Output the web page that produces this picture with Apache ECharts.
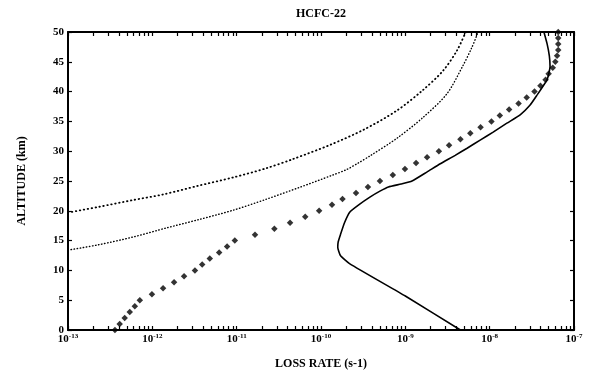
<!DOCTYPE html>
<html>
<head>
<meta charset="utf-8">
<script src="https://cdn.jsdelivr.net/npm/echarts@6/dist/echarts.min.js"></script>
<style>
    html, body { margin: 0; padding: 0; background: #fff; }
    #chart { width: 589px; height: 379px; }
</style>
</head>
<body>
<div id="chart"></div>
<script>
// x axis decades (exponents of 10) and altitude ticks
const decades = [-13, -12, -11, -10, -9, -8, -7]
const altTicks = [0, 5, 10, 15, 20, 25, 30, 35, 40, 45, 50]

// solid curve
const solidAlt = [0, 5.7, 11.1, 12.5, 13.9, 14.8, 16, 18, 19.8, 21, 22.3, 23.3, 24, 24.5, 25, 26.5, 27.9, 29.3, 30.5, 31.9, 33.2, 34.7, 36.1, 37.7, 39.3, 42, 44.2, 46, 48, 50]
const solidRate = [4.5e-9, 1.0e-9, 2.2e-10, 1.7e-10, 1.58e-10, 1.6e-10, 1.7e-10, 1.9e-10, 2.2e-10, 2.8e-10, 3.8e-10, 5.0e-10, 6.3e-10, 8.9e-10, 1.2e-9, 1.8e-9, 2.6e-9, 3.9e-9, 5.4e-9, 7.8e-9, 1.1e-8, 1.6e-8, 2.3e-8, 3.0e-8, 3.6e-8, 4.8e-8, 5.2e-8, 5.1e-8, 4.8e-8, 4.4e-8]

// diamond markers, one per km
const diamondAlt = [0, 1, 2, 3, 4, 5, 6, 7, 8, 9, 10, 11, 12, 13, 14, 15, 16, 17, 18, 19, 20, 21, 22, 23, 24, 25, 26, 27, 28, 29, 30, 31, 32, 33, 34, 35, 36, 37, 38, 39, 40, 41, 42, 43, 44, 45, 46, 47, 48, 49, 50]
const diamondRate = [3.6e-13, 4.1e-13, 4.7e-13, 5.4e-13, 6.2e-13, 7.1e-13, 9.9e-13, 1.34e-12, 1.81e-12, 2.38e-12, 3.2e-12, 3.9e-12, 4.8e-12, 6.2e-12, 7.7e-12, 9.5e-12, 1.65e-11, 2.8e-11, 4.3e-11, 6.5e-11, 9.5e-11, 1.35e-10, 1.8e-10, 2.6e-10, 3.6e-10, 5.0e-10, 7.1e-10, 9.9e-10, 1.34e-9, 1.81e-9, 2.5e-9, 3.3e-9, 4.5e-9, 5.9e-9, 7.8e-9, 1.05e-8, 1.32e-8, 1.7e-8, 2.2e-8, 2.75e-8, 3.4e-8, 4.0e-8, 4.6e-8, 5.0e-8, 5.6e-8, 6.0e-8, 6.3e-8, 6.5e-8, 6.5e-8, 6.5e-8, 6.5e-8]

// upper dotted curve
const upperAlt = [19.7, 20.65, 21.8, 22.75, 24.2, 25.6, 27.1, 28.7, 31.1, 33.6, 36.8, 40.2, 43.5, 46.9, 50]
const upperRate = [1e-13, 2.3e-13, 5.9e-13, 1.35e-12, 3.5e-12, 9.1e-12, 2.2e-11, 4.7e-11, 1.3e-10, 3.2e-10, 7.9e-10, 1.6e-9, 2.8e-9, 4.1e-9, 5.2e-9]

// lower dotted curve
const lowerAlt = [13.4, 14.3, 15.6, 17.1, 18.5, 20.1, 21.9, 23.9, 26.0, 26.9, 28.0, 29.2, 32.2, 35.6, 39.6, 44.3, 47.3, 50]
const lowerRate = [1e-13, 2.3e-13, 5.9e-13, 1.45e-12, 3.5e-12, 9.1e-12, 2.2e-11, 5.5e-11, 1.38e-10, 2.0e-10, 2.75e-10, 3.8e-10, 8.0e-10, 1.6e-9, 3.1e-9, 4.8e-9, 6.1e-9, 7.3e-9]

const font = '"Liberation Serif", "DejaVu Serif", serif'
const pairs = (rates, alts) => rates.map((r, i) => [r, alts[i]])

const decadeValues = decades.map(e => Math.pow(10, e))
const minorValues = []
decades.slice(0, -1).forEach(e => {
    for (let m = 1; m <= 9; m++) minorValues.push(m * Math.pow(10, e))
})
minorValues.push(Math.pow(10, decades[decades.length - 1]))

const frameLine = { show: true, onZero: false, lineStyle: { color: '#000', width: 2 } }

const xAxisBase = {
    type: 'log',
    logBase: 10,
    min: decadeValues[0],
    max: decadeValues[decadeValues.length - 1],
    axisLine: frameLine,
    splitLine: { show: false },
    axisTick: { show: true, inside: true, length: 4, customValues: minorValues, lineStyle: { color: '#000', width: 1.2 } },
}

const chart = echarts.init(document.getElementById('chart'))
chart.setOption({
    backgroundColor: '#fff',
    animation: false,
    grid: { left: 68, right: 15, top: 32, bottom: 49 },
    graphic: [
        {
            type: 'text',
            x: 321,
            y: 14,
            style: {
                text: 'HCFC-22',
                font: 'bold 12px ' + font,
                fill: '#000',
                align: 'center',
                verticalAlign: 'middle',
            },
        },
    ],
    xAxis: [
        Object.assign({}, xAxisBase, {
            position: 'bottom',
            name: 'LOSS RATE (s-1)',
            nameLocation: 'middle',
            nameGap: 28,
            nameTextStyle: { color: '#000', fontFamily: font, fontWeight: 'bold', fontSize: 12 },
            axisLabel: {
                show: true,
                margin: 3,
                customValues: decadeValues,
                formatter: v => '{b|10}{s|' + Math.round(Math.log10(v)) + '}',
                rich: {
                    b: { fontFamily: font, fontWeight: 'bold', fontSize: 11, color: '#000', lineHeight: 13 },
                    s: { fontFamily: font, fontWeight: 'bold', fontSize: 7, color: '#000', lineHeight: 8, verticalAlign: 'top' },
                },
            },
        }),
        Object.assign({}, xAxisBase, {
            position: 'top',
            axisLabel: { show: false },
        }),
    ],
    yAxis: [
        {
            type: 'value',
            position: 'left',
            min: 0,
            max: 50,
            interval: 5,
            name: 'ALTITUDE (km)',
            nameLocation: 'middle',
            nameRotate: 90,
            nameGap: 40,
            nameTextStyle: { color: '#000', fontFamily: font, fontWeight: 'bold', fontSize: 12 },
            axisLine: frameLine,
            splitLine: { show: false },
            axisTick: { show: true, inside: true, length: 4, customValues: altTicks, lineStyle: { color: '#000', width: 1.2 } },
            axisLabel: {
                margin: 4,
                customValues: altTicks,
                color: '#000',
                fontFamily: font,
                fontWeight: 'bold',
                fontSize: 11,
            },
        },
        {
            type: 'value',
            position: 'right',
            min: 0,
            max: 50,
            interval: 5,
            axisLine: frameLine,
            splitLine: { show: false },
            axisTick: { show: true, inside: true, length: 4, lineStyle: { color: '#000', width: 1.2 } },
            axisLabel: { show: false },
        },
    ],
    series: [
        {
            type: 'line',
            data: pairs(solidRate, solidAlt),
            showSymbol: false,
            smooth: 0.15,
            lineStyle: { color: '#000', width: 1.6 },
        },
        {
            type: 'scatter',
            data: pairs(diamondRate, diamondAlt),
            symbol: 'diamond',
            symbolSize: 6.5,
            itemStyle: { color: '#000' },
        },
        {
            type: 'line',
            data: pairs(upperRate, upperAlt),
            showSymbol: false,
            smooth: 0.3,
            lineStyle: { color: '#000', width: 1.8, type: [0.5, 3.5], cap: 'round' },
        },
        {
            type: 'line',
            data: pairs(lowerRate, lowerAlt),
            showSymbol: false,
            smooth: 0.3,
            lineStyle: { color: '#000', width: 1.4, type: [0.5, 2.6], cap: 'round' },
        },
    ],
})
</script>
</body>
</html>
